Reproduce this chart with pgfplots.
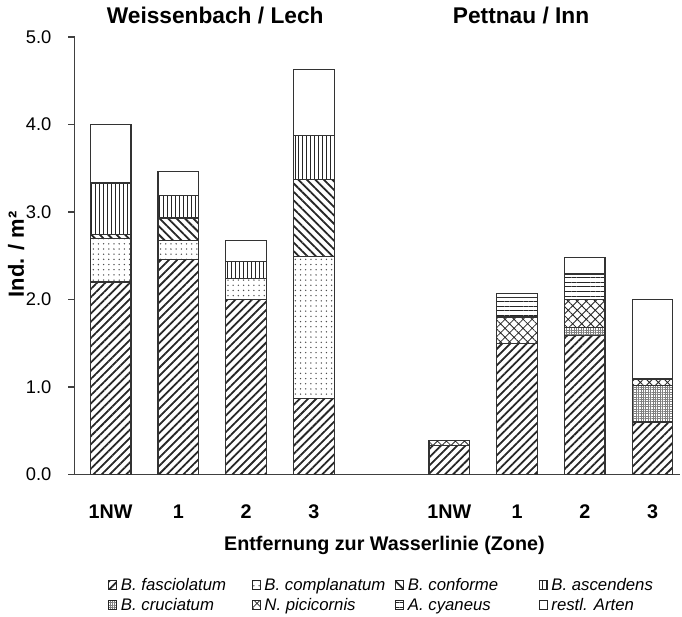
\documentclass[border=0pt]{standalone}
\usepackage{fontspec}
\setmainfont{Liberation Sans}
\usepackage{pgfplots}
\pgfplotsset{compat=1.18}
\usepackage{pgfplotstable}
\usetikzlibrary{patterns.meta}

\pgfplotstableread{
x fas com con asc cru pic cya res
0 2.20 0.50 0.04 0.59 0 0 0 0.67
1 2.46 0.21 0.26 0.26 0 0 0 0.27
2 2.00 0.24 0 0.19 0 0 0 0.24
3 0.87 1.62 0.88 0.50 0 0 0 0.76
5 0.33 0 0 0 0 0.06 0 0
6 1.50 0 0 0 0 0.30 0.22 0.05
7 1.59 0 0 0 0.09 0.32 0.29 0.19
8 0.60 0 0 0 0.42 0.07 0 0.91
}\data

\begin{document}
\begin{tikzpicture}
\begin{axis}[name=ax,
  scale only axis, width=303.5pt, height=219.5pt,
  xmin=-0.53, xmax=8.4, ymin=0, ymax=5,
  ybar stacked, bar width=0.6,
  axis x line=bottom, axis y line=left,
  axis line style={-, black!75, line width=0.7pt},
  xtick={0,1,2,3,5,6,7,8}, xticklabels={1NW,1,2,3,1NW,1,2,3},
  x tick style={draw=none},
  ytick={0,1,2,3,4,5},
  y tick style={black!75, line width=0.7pt},
  tick align=outside, major tick length=3.2pt,
  /pgf/number format/assume math mode=true,
  yticklabel shift=5pt,
  yticklabel style={/pgf/number format/.cd, fixed, fixed zerofill, precision=1, /tikz/.cd, font=\fontsize{9.2}{10}\selectfont},
  xticklabel style={font=\bfseries\fontsize{9.9}{11}\selectfont, anchor=base, yshift=-19pt},
  xlabel={Entfernung zur Wasserlinie (Zone)},
  xlabel style={font=\bfseries\fontsize{9.9}{11}\selectfont, at={(axis description cs:0.512,-0.162)}, anchor=center},
  ylabel={Ind. / m²},
  ylabel style={font=\bfseries\fontsize{11}{12}\selectfont, at={(axis description cs:-0.097,0.503)}, anchor=center},
  clip=false,
  legend columns=4,
  legend style={at={(axis description cs:0.0544,-0.2757)}, anchor=west, draw=none, fill=none, inner sep=0pt, row sep=1.5pt, nodes={inner sep=0pt}, /tikz/every odd column/.append style={column sep=1.8pt}, font=\itshape\fontsize{8.4}{10}\selectfont},
  legend image code/.code={\draw[#1,draw=black!85,line width=0.5pt] (0pt,-2.2pt) rectangle (4.2pt,2.2pt);},
  every axis plot/.append style={draw=black!80, line width=0.6pt},
]
\addplot[pattern={Lines[angle=45,distance=2.9pt,line width=0.9pt]}, pattern color=black!85] table[x=x,y=fas] {\data};
\addlegendentry{\makebox[65.5pt][l]{\strut B. fasciolatum}}
\addplot[pattern={Dots[distance=2.6pt,radius=0.38pt]}, pattern color=black!70] table[x=x,y=com] {\data};
\addlegendentry{\makebox[65.5pt][l]{\strut B. complanatum}}
\addplot[pattern={Lines[angle=-45,distance=3pt,line width=0.9pt]}, pattern color=black!85] table[x=x,y=con] {\data};
\addlegendentry{\makebox[65.5pt][l]{\strut B. conforme}}
\addplot[pattern={Lines[angle=90,distance=2pt,line width=0.45pt]}, pattern color=black!85] table[x=x,y=asc] {\data};
\addlegendentry{\makebox[65.5pt][l]{\strut B. ascendens}}
\addplot[pattern={Hatch[angle=0,distance=1.2pt,line width=0.3pt]}, pattern color=black!50] table[x=x,y=cru] {\data};
\addlegendentry{\makebox[65.5pt][l]{\strut B. cruciatum}}
\addplot[pattern={Hatch[angle=45,distance=3.2pt,line width=0.4pt]}, pattern color=black!85] table[x=x,y=pic] {\data};
\addlegendentry{\makebox[65.5pt][l]{\strut N. picicornis}}
\addplot[pattern={Lines[angle=0,distance=2.4pt,line width=0.45pt]}, pattern color=black!85] table[x=x,y=cya] {\data};
\addlegendentry{\makebox[65.5pt][l]{\strut A. cyaneus}}
\addplot[fill=white] table[x=x,y=res] {\data};
\addlegendentry{\makebox[65.5pt][l]{\strut restl. Arten}}
\node[font=\bfseries\fontsize{11.4}{13}\selectfont] at (axis cs:1.544,5.25) {Weissenbach / Lech};
\node[font=\bfseries\fontsize{11.4}{13}\selectfont] at (axis cs:6.06,5.25) {Pettnau / Inn};
\end{axis}
\path ([shift={(-37.5pt,-71.5pt)}]ax.south west) rectangle ([shift={(0pt,18.5pt)}]ax.north east);
\end{tikzpicture}
\end{document}
